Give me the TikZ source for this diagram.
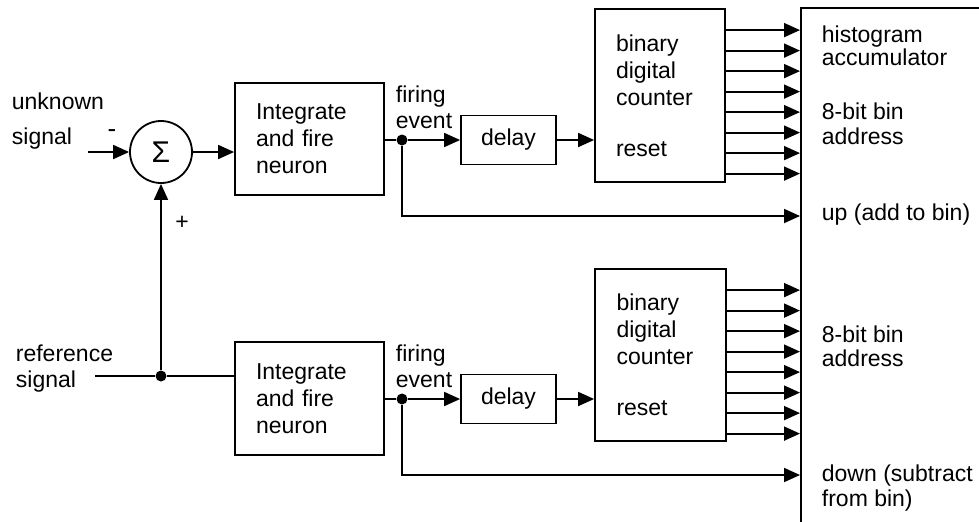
\documentclass[tikz,border=0pt]{standalone}
\usepackage{fontspec}
\setmainfont{Liberation Sans}
\usetikzlibrary{arrows.meta,calc}

\begin{document}
\begin{tikzpicture}[x=0.5pt,y=-0.5pt,>={Triangle[length=8pt,width=7pt]},line width=0.9pt,
  every node/.style={font=\fontsize{11.5}{13.5}\selectfont},
  blk/.style={draw,rectangle,inner sep=0pt,align=left},
  dot/.style={circle,fill,inner sep=0pt,minimum size=5.5pt},
  lbl/.style={inner sep=0pt,align=left,anchor=north west}]
  \useasboundingbox (0,0) rectangle (979,521);
  \clip (0,0) rectangle (979,521);
  % upper channel
  \coordinate (unk) at (88,152);
  \node[draw,circle,minimum size=31pt,inner sep=0pt,font=\fontsize{15}{15}\selectfont] (sum) at (161,152) {Σ};
  \node[blk,minimum width=74.5pt,minimum height=56pt,text width=53.5pt] (ifA) at (309.5,139) {Integrate\\and fire\\neuron};
  \node[dot] (dotA) at (402,140) {};
  \node[blk,minimum width=47.5pt,minimum height=24.5pt,align=center] (dlyA) at (508.5,140) {delay};
  \node[blk,minimum width=65pt,minimum height=86.5pt,text width=44pt] (cntA) at (660,95.5) {binary\\digital\\counter\\[12pt]reset};
  % lower channel
  \coordinate (ref) at (95,376);
  \node[dot] (dotR) at (161,376) {};
  \node[blk,minimum width=74.5pt,minimum height=56.5pt,text width=53.5pt] (ifB) at (309.5,398.5) {Integrate\\and fire\\neuron};
  \node[dot] (dotB) at (402,399) {};
  \node[blk,minimum width=47.5pt,minimum height=24.5pt,align=center] (dlyB) at (508.5,399) {delay};
  \node[blk,minimum width=65.5pt,minimum height=86pt,text width=44pt] (cntB) at (660.5,355) {binary\\digital\\counter\\[12pt]reset};
  % accumulator
  \node[draw,minimum width=200pt,minimum height=300pt,anchor=north west,inner sep=0pt] (acc) at (800,7) {};
  % labels
  \node[lbl,font=\fontsize{11.5}{17.5}\selectfont] (unkl) at (11,91.5) {unknown\\signal};
  \node[inner sep=0pt,font=\fontsize{13}{13}\selectfont] (minus) at (112,134) {-};
  \node[inner sep=0pt] (plus) at (182,223) {+};
  \node[lbl,font=\fontsize{11.5}{13}\selectfont] (refl) at (15,343.5) {reference\\signal};
  \node[lbl,font=\fontsize{11.5}{13}\selectfont] (fireA) at (395,84.5) {firing\\event};
  \node[lbl,font=\fontsize{11.5}{13}\selectfont] (fireB) at (395,343.5) {firing\\event};
  \node[lbl,font=\fontsize{11.5}{11.5}\selectfont] (accl) at (821,24.5) {histogram\\accumulator};
  \node[lbl,font=\fontsize{11.5}{12.5}\selectfont] (addrA) at (821,101.5) {8-bit bin\\address};
  \node[inner sep=0pt,anchor=base west] (upl) at (821,220) {up (add to bin)};
  \node[lbl,font=\fontsize{11.5}{12}\selectfont] (addrB) at (821,324.5) {8-bit bin\\address};
  \node[lbl,font=\fontsize{11.5}{12.5}\selectfont] (downl) at (821,463.5) {down (subtract\\from bin)};
  % connections
  \draw[->] (unk) -- (sum);
  \draw[->] (sum) -- (sum -| ifA.west);
  \draw (ifA.east |- dotA) -- (dotA);
  \draw[->] (dotA) -- (dlyA);
  \draw[->] (dlyA) -- (dlyA -| cntA.west);
  \draw[->] (dotA) |- ($(acc.north west)+(0,209)$);
  \draw (ref) -- (dotR) -- (dotR -| ifB.west);
  \draw[->] (dotR) -- (sum);
  \draw (ifB.east |- dotB) -- (dotB);
  \draw[->] (dotB) -- (dlyB);
  \draw[->] (dlyB) -- (dlyB -| cntB.west);
  \draw[->] (dotB) |- ($(acc.north west)+(0,468)$);
  \foreach \i in {0,...,7} {
    \draw[->] ($(cntA.north east)+(0,22+20.5*\i)$) -- ($(cntA.north east -| acc.west)+(0,22+20.5*\i)$);
    \draw[->] ($(cntB.north east)+(0,22+20.5*\i)$) -- ($(cntB.north east -| acc.west)+(0,22+20.5*\i)$);
  }
\end{tikzpicture}
\end{document}
